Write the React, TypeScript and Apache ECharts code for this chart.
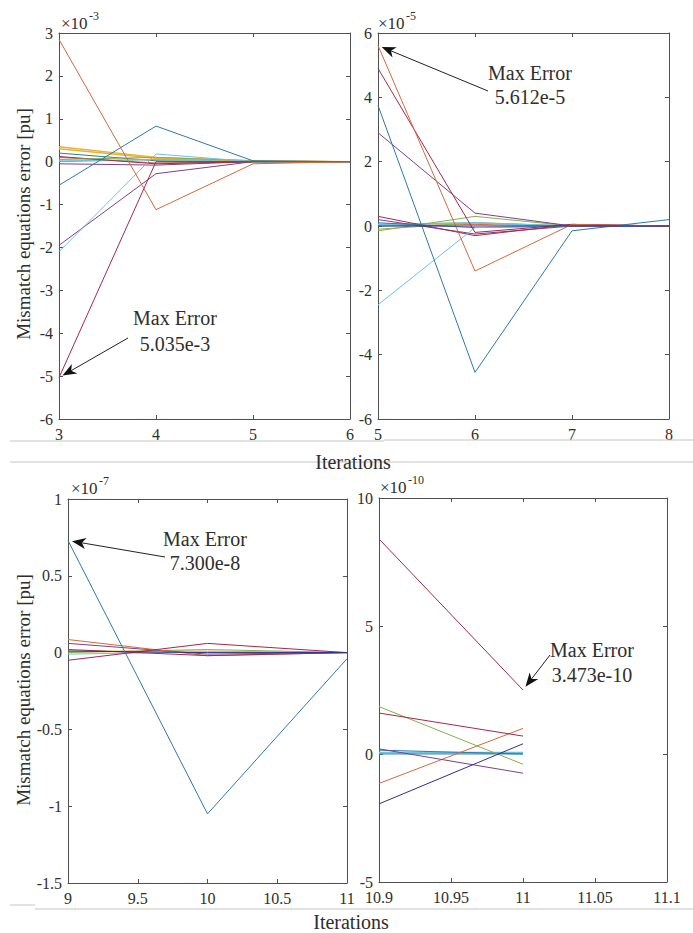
import React, { useEffect, useRef } from "react";
import * as echarts from "echarts";

const FONT = "Liberation Serif";

// ---------- Panel 1 (values ×10^-3) ----------
const p1Iter = [3, 4, 5, 6];
const p1Blue = [-0.55, 0.83, 0.02, 0];
const p1Orange = [2.85, -1.12, -0.05, 0];
const p1Yellow = [0.35, 0.1, 0.02, 0];
const p1Purple = [-1.95, -0.28, 0.0, 0];
const p1Green = [0.05, 0.1, 0.02, 0];
const p1LightBlue = [-2.1, 0.18, 0.0, 0];
const p1DarkRed = [-5.035, 0.0, 0.0, 0];
const p1Blue2 = [0.2, 0.02, 0, 0];
const p1Orange2 = [0.1, -0.03, 0, 0];
const p1Yellow2 = [0.3, 0.08, 0, 0];
const p1Purple2 = [-0.05, -0.08, 0, 0];
const p1Green2 = [0.0, 0.05, 0, 0];
const p1LightBlue2 = [0.02, 0.05, 0, 0];
const p1DarkRed2 = [0.12, -0.05, 0, 0];

// ---------- Panel 2 (values ×10^-5) ----------
const p2Iter = [5, 6, 7, 8];
const p2Blue = [3.75, -4.55, -0.15, 0.2];
const p2Orange = [5.612, -1.4, 0.05, 0];
const p2Yellow = [0.05, 0.1, 0, 0];
const p2Purple = [2.9, 0.4, 0.0, 0];
const p2Green = [-0.15, 0.3, 0.0, 0];
const p2LightBlue = [-2.45, -0.05, 0, 0];
const p2DarkRed = [4.9, -0.2, 0.05, 0];
const p2Blue2 = [0.1, -0.05, 0, 0];
const p2Orange2 = [0.0, 0.05, 0, 0];
const p2Purple2 = [0.2, -0.25, 0.0, 0];
const p2Green2 = [-0.1, 0.1, 0, 0];
const p2LightBlue2 = [0.05, 0.1, 0, 0];
const p2DarkRed2 = [0.3, -0.3, 0.05, 0];
const p2Navy = [0, 0, 0, 0];

// ---------- Panel 3 (values ×10^-7) ----------
const p3Iter = [9, 10, 11];
const p3Blue = [0.73, -1.05, -0.04];
const p3Orange = [0.085, -0.02, 0];
const p3Yellow = [0.01, 0.01, 0];
const p3Purple = [0.06, -0.01, 0];
const p3Green = [0.0, 0.02, 0];
const p3LightBlue = [-0.01, 0.005, 0];
const p3DarkRed = [-0.05, 0.06, 0];
const p3Navy = [0.01, 0, 0];
const p3DarkRed2 = [0.02, -0.02, 0];

// ---------- Panel 4 (values ×10^-10) ----------
const p4Iter = [10.9, 11];
const p4Blue = [0.15, 0.0];
const p4Orange = [-1.15, 1.0];
const p4Green = [1.85, -0.4];
const p4Purple = [0.2, -0.75];
const p4DarkRed = [8.4, 2.5];
const p4DarkRed2 = [1.6, 0.7];
const p4Navy = [-1.95, 0.4];
const p4LightBlue = [0.05, 0.05];
const p4Teal = [0, 0];

// Axis ranges / tick steps
const xRanges = [
  [3, 6, 1],
  [5, 8, 1],
  [9, 11, 0.5],
  [10.9, 11.1, 0.05],
];
const yRanges = [
  [-6, 3, 1],
  [-6, 6, 2],
  [-1.5, 1, 0.5],
  [-5, 10, 5],
];
const exponents = ["-3", "-5", "-7", "-10"];

// Max-error annotation points & labels
const maxPoints = [
  [3, -5.035],
  [5, 5.612],
  [9, 0.73],
  [11, 2.5],
];
const maxLabels = ["5.035e-3", "5.612e-5", "7.300e-8", "3.473e-10"];

const C = {
  blue: "#2d79ad",
  orange: "#d26a3c",
  yellow: "#e6b432",
  purple: "#7d3f8c",
  green: "#8aae48",
  lightBlue: "#6cc2e4",
  darkRed: "#a3294a",
  navy: "#2e2e8e",
  teal: "#3a8fa0",
};

const panels = [
  {
    iter: p1Iter,
    lines: [
      [p1Blue2, C.blue, 1],
      [p1Orange2, C.orange, 1],
      [p1Yellow2, C.yellow, 1.5],
      [p1Purple2, C.purple, 1],
      [p1Green2, C.green, 1],
      [p1LightBlue2, C.lightBlue, 1],
      [p1DarkRed2, C.darkRed, 1],
      [p1Yellow, C.yellow, 1.5],
      [p1Green, C.green, 1],
      [p1Purple, C.purple, 1],
      [p1LightBlue, C.lightBlue, 1],
      [p1DarkRed, C.darkRed, 1],
      [p1Orange, C.orange, 1],
      [p1Blue, C.blue, 1],
    ],
  },
  {
    iter: p2Iter,
    lines: [
      [p2Yellow, C.yellow, 1],
      [p2Orange2, C.orange, 1],
      [p2Green2, C.green, 1],
      [p2LightBlue2, C.lightBlue, 1.5],
      [p2Green, C.green, 1],
      [p2Purple2, C.purple, 1],
      [p2DarkRed2, C.darkRed, 1],
      [p2Blue2, C.blue, 1],
      [p2LightBlue, C.lightBlue, 1],
      [p2Purple, C.purple, 1],
      [p2DarkRed, C.darkRed, 1],
      [p2Orange, C.orange, 1],
      [p2Blue, C.blue, 1],
      [p2Navy, C.navy, 1],
    ],
  },
  {
    iter: p3Iter,
    lines: [
      [p3Yellow, C.yellow, 1],
      [p3Green, C.green, 1],
      [p3LightBlue, C.lightBlue, 1],
      [p3Purple, C.purple, 1],
      [p3Orange, C.orange, 1],
      [p3DarkRed2, C.darkRed, 1],
      [p3DarkRed, C.darkRed, 1],
      [p3Navy, C.navy, 1],
      [p3Blue, C.blue, 1],
    ],
  },
  {
    iter: p4Iter,
    lines: [
      [p4LightBlue, C.lightBlue, 2],
      [p4Teal, C.teal, 1],
      [p4Blue, C.blue, 1],
      [p4Orange, C.orange, 1],
      [p4Green, C.green, 1],
      [p4Purple, C.purple, 1],
      [p4DarkRed2, C.darkRed, 1],
      [p4Navy, C.navy, 1],
      [p4DarkRed, C.darkRed, 1],
    ],
  },
];

const grids = [
  { left: 59, top: 33, width: 291, height: 386 },
  { left: 378, top: 33, width: 291, height: 386 },
  { left: 68, top: 499, width: 279, height: 384 },
  { left: 379, top: 498, width: 288, height: 384 },
];

const AX = "#505050";
const TXT = "#2e2e2e";

const fmt = (v: number) => String(parseFloat(v.toFixed(4)));

function mkX(g: number, pos: string) {
  const [min, max, interval] = xRanges[g];
  return {
    type: "value",
    gridIndex: g,
    min,
    max,
    interval,
    position: pos,
    axisLine: { show: true, onZero: false, lineStyle: { color: AX, width: 1 } },
    axisTick: { show: true, inside: true, length: 4, lineStyle: { color: AX } },
    axisLabel: {
      show: pos === "bottom",
      margin: 7,
      color: TXT,
      fontFamily: FONT,
      fontSize: 16,
      formatter: fmt,
    },
    splitLine: { show: false },
  };
}

function mkY(g: number, pos: string) {
  const [min, max, interval] = yRanges[g];
  return {
    type: "value",
    gridIndex: g,
    min,
    max,
    interval,
    position: pos,
    axisLine: { show: true, onZero: false, lineStyle: { color: AX, width: 1 } },
    axisTick: { show: true, inside: true, length: 4, lineStyle: { color: AX } },
    axisLabel: {
      show: pos === "left",
      margin: 6,
      color: TXT,
      fontFamily: FONT,
      fontSize: 16,
      formatter: fmt,
    },
    splitLine: { show: false },
  };
}

function text(x: number, y: number, t: string, size: number, extra: any = {}) {
  return {
    type: "text",
    x,
    y,
    silent: true,
    z: 100,
    ...extra,
    style: {
      text: t,
      fill: TXT,
      fontFamily: FONT,
      fontSize: size,
      align: extra.align || "center",
      textAlign: extra.align || "center",
      verticalAlign: "middle",
      textVerticalAlign: "middle",
    },
  };
}

function hline(x1: number, x2: number, y: number) {
  return {
    type: "line",
    silent: true,
    z: 50,
    shape: { x1, y1: y, x2, y2: y },
    style: { stroke: "#c4c4c4", lineWidth: 1 },
  };
}

function arrow(tail: number[], pt: number[]) {
  const dx = pt[0] - tail[0];
  const dy = pt[1] - tail[1];
  const len = Math.sqrt(dx * dx + dy * dy);
  const ux = dx / len;
  const uy = dy / len;
  const tip = [pt[0] - ux * 4, pt[1] - uy * 4];
  const L = 14;
  const W = 5.5;
  const nx = -uy;
  const ny = ux;
  const back = [tip[0] - ux * L, tip[1] - uy * L];
  const notch = [tip[0] - ux * (L - 4), tip[1] - uy * (L - 4)];
  return [
    {
      type: "line",
      silent: true,
      z: 100,
      shape: { x1: tail[0], y1: tail[1], x2: notch[0], y2: notch[1] },
      style: { stroke: "#222", lineWidth: 1 },
    },
    {
      type: "polygon",
      silent: true,
      z: 101,
      shape: {
        points: [
          tip,
          [back[0] + nx * W, back[1] + ny * W],
          notch,
          [back[0] - nx * W, back[1] - ny * W],
        ],
      },
      style: { fill: "#111" },
    },
  ];
}

const annTails = [
  [128, 338],
  [488, 91],
  [165, 557],
  [550, 655],
];
const annText = [
  [175, 318, 344],
  [530, 73, 97],
  [205, 539, 563],
  [592, 650, 675],
];
const expPos = [
  [61, 23],
  [378, 23],
  [71, 488],
  [380, 487],
];
const yNamePos = [
  [23, 224],
  [23, 690],
];

export default function App() {
  const ref = useRef<HTMLDivElement>(null);
  useEffect(() => {
    document.body.style.margin = "0";
    if (!ref.current) return;
    const chart = echarts.init(ref.current, null, { renderer: "svg" });

    const series: any[] = [];
    panels.forEach((p, g) => {
      p.lines.forEach(([vals, color, w]: any) => {
        series.push({
          type: "line",
          xAxisIndex: g,
          yAxisIndex: g,
          data: p.iter.map((x, k) => [x, vals[k]]),
          symbol: "none",
          showSymbol: false,
          silent: true,
          lineStyle: { width: w, color },
          itemStyle: { color },
        });
      });
    });

    chart.setOption({
      animation: false,
      backgroundColor: "#ffffff",
      textStyle: { fontFamily: FONT },
      grid: grids.map((g) => ({ ...g, containLabel: false, show: false })),
      xAxis: [0, 1, 2, 3].map((g) => mkX(g, "bottom")).concat([0, 1, 2, 3].map((g) => mkX(g, "top"))),
      yAxis: [0, 1, 2, 3].map((g) => mkY(g, "left")).concat([0, 1, 2, 3].map((g) => mkY(g, "right"))),
      series,
    });

    const graphics: any[] = [];
    graphics.push(hline(10, 384, 441));
    graphics.push(hline(384, 693, 440));
    graphics.push(hline(10, 693, 462));
    graphics.push(hline(10, 35, 905));
    graphics.push(hline(35, 693, 909));
    graphics.push(text(353, 462, "Iterations", 20));
    graphics.push(text(351, 922, "Iterations", 20));
    yNamePos.forEach(([x, y]) =>
      graphics.push(text(x, y, "Mismatch equations error [pu]", 19, { rotation: Math.PI / 2 }))
    );
    expPos.forEach(([x, y], i) => {
      graphics.push(text(x, y, "×10", 17, { align: "left" }));
      graphics.push(text(x + 28, y - 7, exponents[i], 12, { align: "left" }));
    });
    maxPoints.forEach((pt, i) => {
      const px = chart.convertToPixel({ xAxisIndex: i, yAxisIndex: i } as any, pt) as number[];
      arrow(annTails[i], px).forEach((e) => graphics.push(e));
      const [cx, y1, y2] = annText[i];
      graphics.push(text(cx, y1, "Max Error", 20));
      graphics.push(text(cx, y2, maxLabels[i], 20));
    });

    chart.setOption({ graphic: graphics });

    return () => chart.dispose();
  }, []);

  return <div ref={ref} style={{ width: 693, height: 933 }} />;
}
